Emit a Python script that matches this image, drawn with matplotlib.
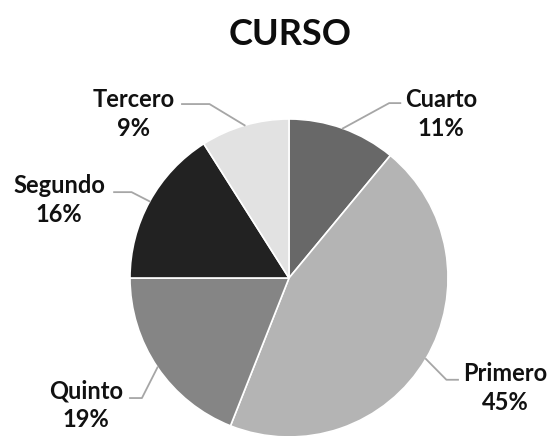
import matplotlib.pyplot as plt
import numpy as np

labels = ['Cuarto', 'Primero', 'Quinto', 'Segundo', 'Tercero']
values = [11, 45, 19, 16, 9]
colors = ['#686868', '#b4b4b4', '#858585', '#222222', '#e2e2e2']

# label text positions and leader elbow / end points (data units, pie radius = 1)
text_pos = [(0.956, 1.03), (1.358, -0.69), (-1.277, -0.80), (-1.447, 0.49), (-0.975, 1.03)]
elbow = [(0.63, 1.10), (0.99, -0.64), (-0.925, -0.755), (-0.99, 0.54), (-0.50, 1.094)]
hend = [(0.70, 1.10), (1.063, -0.64), (-1.00, -0.755), (-1.10, 0.54), (-0.673, 1.094)]

plt.rcParams['font.family'] = ['Lato', 'DejaVu Sans']

fig = plt.figure(figsize=(5.5, 4.36), dpi=100)
ax = fig.add_axes([0, 0, 1, 1])

wedges, _ = ax.pie(values, colors=colors, startangle=90, counterclock=False,
                   wedgeprops=dict(edgecolor='white', linewidth=1.2))

for w, lab, v, tp, el, he in zip(wedges, labels, values, text_pos, elbow, hend):
    ang = np.deg2rad((w.theta1 + w.theta2) / 2)
    x0, y0 = np.cos(ang), np.sin(ang)
    ax.plot([x0, el[0], he[0]], [y0, el[1], he[1]], color='#a6a6a6', lw=1.3)
    ax.text(tp[0], tp[1], f'{lab}\n{v}%', ha='center', va='center',
            fontsize=17, fontweight='bold', color='#111111', linespacing=1.3)

ax.set_xlim(-289 / 159, 261 / 159)
ax.set_ylim(-158 / 159, 278 / 159)
ax.set_aspect('auto')
ax.axis('off')

fig.text(0.527, 0.922, 'CURSO', ha='center', va='center', fontsize=26,
         fontweight='bold', color='#0d0d0d')

fig.savefig('out.png', dpi=100, facecolor='white')
